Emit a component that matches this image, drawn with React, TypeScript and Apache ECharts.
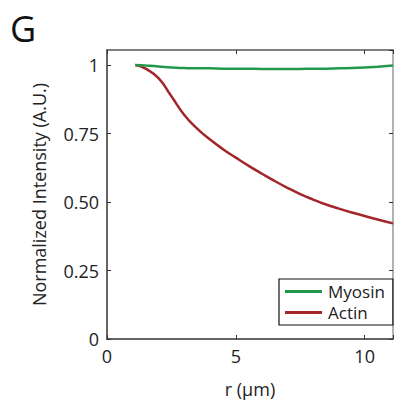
import React, { useEffect, useRef } from "react";
import * as echarts from "echarts";

const rValues = [1.1, 1.5, 2.0, 2.5, 3.0, 3.5, 4.0, 4.5, 5.0, 5.5, 6.0, 6.5, 7.0, 7.5, 8.0, 8.5, 9.0, 9.5, 10.0, 10.5, 11.1];
const actin = [1.0, 0.987, 0.952, 0.886, 0.818, 0.768, 0.728, 0.693, 0.662, 0.632, 0.604, 0.577, 0.552, 0.529, 0.509, 0.491, 0.476, 0.462, 0.449, 0.436, 0.422];
const myosin = [1.0, 0.998, 0.995, 0.991, 0.989, 0.988, 0.988, 0.987, 0.987, 0.987, 0.986, 0.986, 0.986, 0.986, 0.987, 0.987, 0.988, 0.989, 0.991, 0.994, 0.998];
const seriesNames = ["Myosin", "Actin"];
const xTicks = [0, 5, 10];
const yTicks = [0, 0.25, 0.5, 0.75, 1];

const FONT = "'Open Sans', 'DejaVu Sans', sans-serif";
const GREEN = "#22994a";
const RED = "#a3262b";
const AXIS = "#333333";
const FS = 18;

export default function App() {
  const ref = useRef<HTMLDivElement>(null);
  useEffect(() => {
    if (!ref.current) return;
    const chart = echarts.init(ref.current, undefined, { renderer: "svg" });
    const pair = (ys: number[]) => rValues.map((x, i) => [x, ys[i]]);
    const yLabel = (v: number) => {
      if (!yTicks.some((t) => Math.abs(t - v) < 1e-6)) return "";
      if (v === 0) return "0";
      if (v === 1) return "1";
      return v.toFixed(2);
    };
    const xLabel = (v: number) => (xTicks.includes(v) ? String(v) : "");
    chart.setOption({
      animation: false,
      backgroundColor: "#ffffff",
      textStyle: { fontFamily: FONT },
      graphic: [
        {
          type: "text",
          left: 10,
          top: 10,
          style: { text: "G", font: `36px ${FONT}`, fill: "#111" },
        },
      ],
      grid: { left: 107, top: 50, right: 1, bottom: 64, containLabel: false },
      legend: {
        orient: "vertical",
        left: 279,
        top: 279,
        width: 110,
        padding: [4, 8, 4, 6],
        itemGap: 4,
        itemWidth: 37,
        itemHeight: 3,
        icon: "rect",
        borderColor: "#111",
        borderWidth: 1.2,
        backgroundColor: "#fff",
        textStyle: { fontFamily: FONT, fontSize: 17, color: "#222", padding: [0, 0, 0, 1] },
        data: seriesNames,
      },
      xAxis: [
        {
          type: "value",
          min: 0,
          max: 11.1,
          interval: 5,
          name: "r (µm)",
          nameLocation: "middle",
          nameGap: 41,
          nameTextStyle: { fontFamily: FONT, fontSize: FS, color: "#222" },
          axisLine: { show: true, onZero: false, lineStyle: { color: AXIS, width: 1.5 } },
          axisTick: { show: true, inside: true, length: 4, lineStyle: { color: AXIS } },
          axisLabel: { fontFamily: FONT, fontSize: FS, color: "#222", margin: 8, formatter: xLabel },
          splitLine: { show: false },
        },
        {
          type: "value",
          position: "top",
          min: 0,
          max: 11.1,
          interval: 5,
          axisLine: { show: true, onZero: false, lineStyle: { color: "#555", width: 1.5 } },
          axisTick: { show: true, inside: true, length: 4, lineStyle: { color: AXIS } },
          axisLabel: { show: false },
          splitLine: { show: false },
        },
      ],
      yAxis: [
        {
          type: "value",
          min: 0,
          max: 1.055,
          interval: 0.25,
          name: "Normalized Intensity (A.U.)",
          nameLocation: "middle",
          nameGap: 59,
          nameTextStyle: { fontFamily: FONT, fontSize: FS, color: "#222" },
          axisLine: { show: true, onZero: false, lineStyle: { color: AXIS, width: 1.5 } },
          axisTick: { show: true, inside: true, length: 4, lineStyle: { color: AXIS } },
          axisLabel: { fontFamily: FONT, fontSize: FS, color: "#222", margin: 8, formatter: yLabel, showMaxLabel: false },
          splitLine: { show: false },
        },
        {
          type: "value",
          position: "right",
          min: 0,
          max: 1.055,
          interval: 0.25,
          axisLine: { show: true, onZero: false, lineStyle: { color: "#999", width: 1.5 } },
          axisTick: { show: true, inside: true, length: 4, lineStyle: { color: AXIS } },
          axisLabel: { show: false },
          splitLine: { show: false },
        },
      ],
      series: [
        {
          name: seriesNames[0],
          type: "line",
          smooth: true,
          showSymbol: false,
          data: pair(myosin),
          itemStyle: { color: GREEN },
          lineStyle: { color: GREEN, width: 2.5 },
          z: 3,
        },
        {
          name: seriesNames[1],
          type: "line",
          smooth: true,
          showSymbol: false,
          data: pair(actin),
          itemStyle: { color: RED },
          lineStyle: { color: RED, width: 2.5 },
          z: 2,
        },
      ],
    });
    return () => chart.dispose();
  }, []);
  return (
    <div
      ref={ref}
      style={{ position: "fixed", left: 0, top: 0, width: 396, height: 403, background: "#fff" }}
    />
  );
}
